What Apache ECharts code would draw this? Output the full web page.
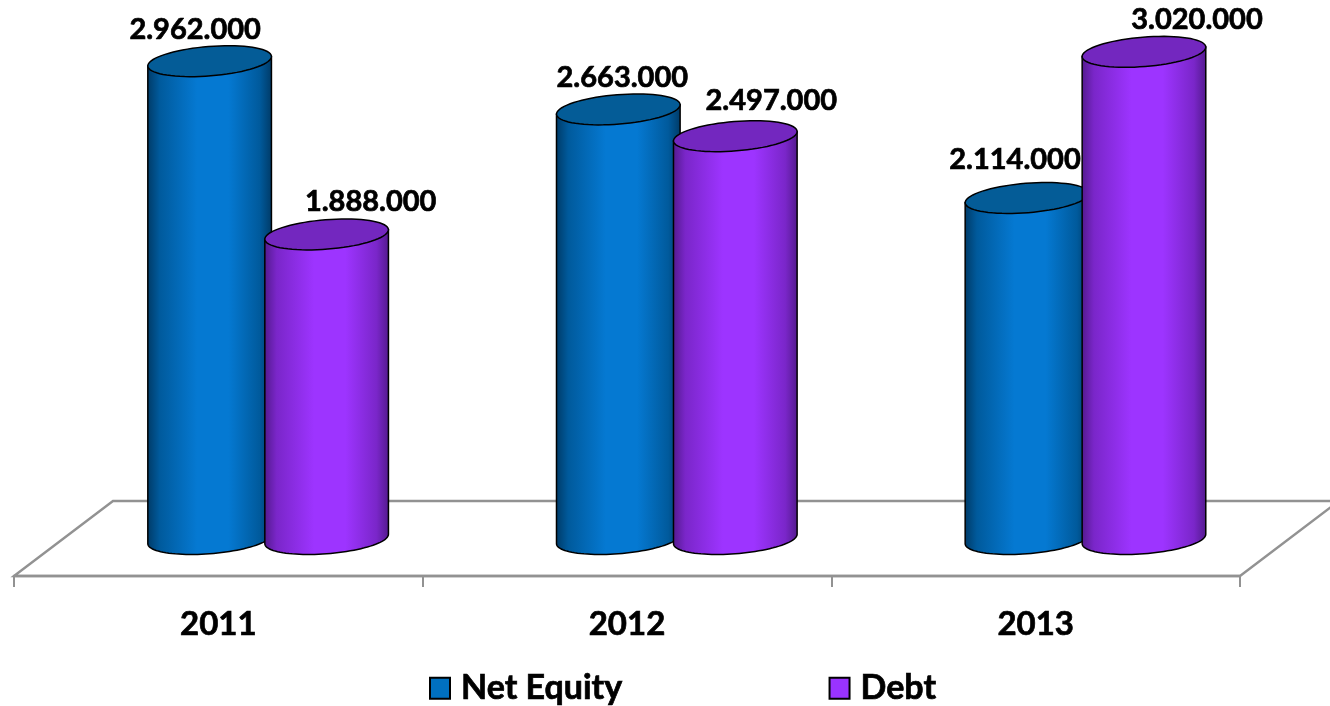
<!DOCTYPE html>
<html>
<head>
<meta charset="utf-8">
<style>
  html, body { margin: 0; padding: 0; background: #fff; }
  #chart { width: 1330px; height: 706px; }
</style>
<script src="https://cdn.jsdelivr.net/npm/echarts@6/dist/echarts.min.js"></script>
</head>
<body>
<div id="chart"></div>
<script>
const years = ["2011", "2012", "2013"]
const netEquity = [2962000, 2663000, 2114000]
const debt = [1888000, 2497000, 3020000]

// labels were moved by hand in the original, so each one has its own nudge from the cylinder top
const netEquityLabelShift = [[-14.5, -32], [4, -32], [-12, -38]]
const debtLabelShift = [[44, -33], [36, -36], [53, -32]]

const fontFamily = "Lato, 'Noto Sans', sans-serif"
const tilt = -4.6 * Math.PI / 180
const radiusX = 62
const radiusY = 14.7

const chart = echarts.init(document.getElementById("chart"))

function ellipsePoint(cx, cy, t) {
  const ex = radiusX * Math.cos(t)
  const ey = radiusY * Math.sin(t)
  return [
    cx + ex * Math.cos(tilt) - ey * Math.sin(tilt),
    cy + ex * Math.sin(tilt) + ey * Math.cos(tilt),
  ]
}

function formatValue(v) {
  return String(v).replace(/\B(?=(\d{3})+$)/g, ".")
}

function cylinderRenderer(xShift, labelShift, colors) {
  return (params, api) => {
    const idx = api.value(0)
    const top = api.coord([idx, api.value(1)])
    const base = api.coord([idx, 0])
    const cx = top[0] + xShift

    // t of the left/right silhouette points on the tilted ellipse
    const tEdge = Math.atan(-(radiusY / radiusX) * Math.tan(tilt))
    const body = [ellipsePoint(cx, top[1], tEdge)]
    const steps = 48
    for (let i = 0; i <= steps; i++) {
      body.push(ellipsePoint(cx, base[1], tEdge + (Math.PI * i) / steps))
    }
    body.push(ellipsePoint(cx, top[1], tEdge + Math.PI))

    const cap = []
    for (let i = 0; i < 72; i++) {
      cap.push(ellipsePoint(cx, top[1], (Math.PI * 2 * i) / 72))
    }

    return {
      type: "group",
      children: [
        {
          type: "polygon",
          shape: { points: body },
          style: {
            fill: new echarts.graphic.LinearGradient(0, 0, 1, 0, [
              { offset: 0, color: colors.edge },
              { offset: 0.1, color: colors.shade },
              { offset: 0.4, color: colors.mid },
              { offset: 0.65, color: colors.mid },
              { offset: 0.9, color: colors.shade },
              { offset: 1, color: colors.edge },
            ]),
            stroke: "#000",
            lineWidth: 1.5,
          },
        },
        {
          type: "polygon",
          shape: { points: cap },
          style: { fill: colors.cap, stroke: "#000", lineWidth: 1.5 },
        },
        {
          type: "text",
          z2: 10,
          style: {
            text: formatValue(api.value(1)),
            x: cx + labelShift[idx][0],
            y: top[1] + labelShift[idx][1],
            align: "center",
            verticalAlign: "middle",
            font: `bold 29px ${fontFamily}`,
            fill: "#000",
            stroke: "#000",
            lineWidth: 0.7,
          },
        },
      ],
    }
  }
}

function renderFloor(params) {
  const grid = params.coordSys
  const front = grid.y + grid.height + 37
  const back = front - 75
  const left = grid.x
  const right = grid.x + grid.width
  return {
    type: "polygon",
    shape: {
      points: [
        [left, front],
        [left + 99, back],
        [right + 99, back],
        [right, front],
      ],
    },
    style: { fill: "none", stroke: "#929292", lineWidth: 2.4 },
  }
}

chart.setOption({
  animation: false,
  backgroundColor: "#fff",
  grid: {
    left: 14,
    right: 90,
    top: 22.8,
    bottom: 167,
  },
  legend: {
    data: ["Net Equity", "Debt"],
    left: 424,
    top: 666,
    itemWidth: 20,
    itemHeight: 21,
    itemGap: 206,
    icon: "rect",
    textStyle: {
      fontFamily,
      fontWeight: "bold",
      fontSize: 34,
      color: "#000",
      textBorderColor: "#000",
      textBorderWidth: 0.7,
      padding: [0, 0, 0, 6],
    },
  },
  xAxis: {
    type: "category",
    data: years,
    offset: 37,
    axisLine: { onZero: false, lineStyle: { color: "#929292", width: 2.4 } },
    axisTick: { show: true, interval: 0, length: 11, lineStyle: { color: "#929292", width: 2 } },
    axisLabel: {
      margin: 32,
      fontFamily,
      fontWeight: "bold",
      fontSize: 33,
      color: "#000",
      textBorderColor: "#000",
      textBorderWidth: 0.7,
    },
  },
  yAxis: {
    type: "value",
    min: 0,
    max: 3200000,
    show: false,
  },
  series: [
    {
      type: "custom",
      name: "floor",
      silent: true,
      z: 1,
      clip: false,
      renderItem: renderFloor,
      data: [[0, 0]],
    },
    {
      type: "custom",
      name: "Net Equity",
      z: 2,
      clip: false,
      itemStyle: { color: "#0070c0", borderColor: "#000", borderWidth: 1 },
      renderItem: cylinderRenderer(-8.7, netEquityLabelShift, {
        edge: "#003a66",
        shade: "#005a9c",
        mid: "#0579d2",
        cap: "#045c97",
      }),
      data: netEquity.map((v, i) => [i, v]),
    },
    {
      type: "custom",
      name: "Debt",
      z: 3,
      clip: false,
      itemStyle: { color: "#9933ff", borderColor: "#000", borderWidth: 1 },
      renderItem: cylinderRenderer(108.3, debtLabelShift, {
        edge: "#521a8c",
        shade: "#7a26c9",
        mid: "#9d34ff",
        cap: "#7327bf",
      }),
      data: debt.map((v, i) => [i, v]),
    },
  ],
})

window.addEventListener("resize", () => chart.resize())
</script>
</body>
</html>
